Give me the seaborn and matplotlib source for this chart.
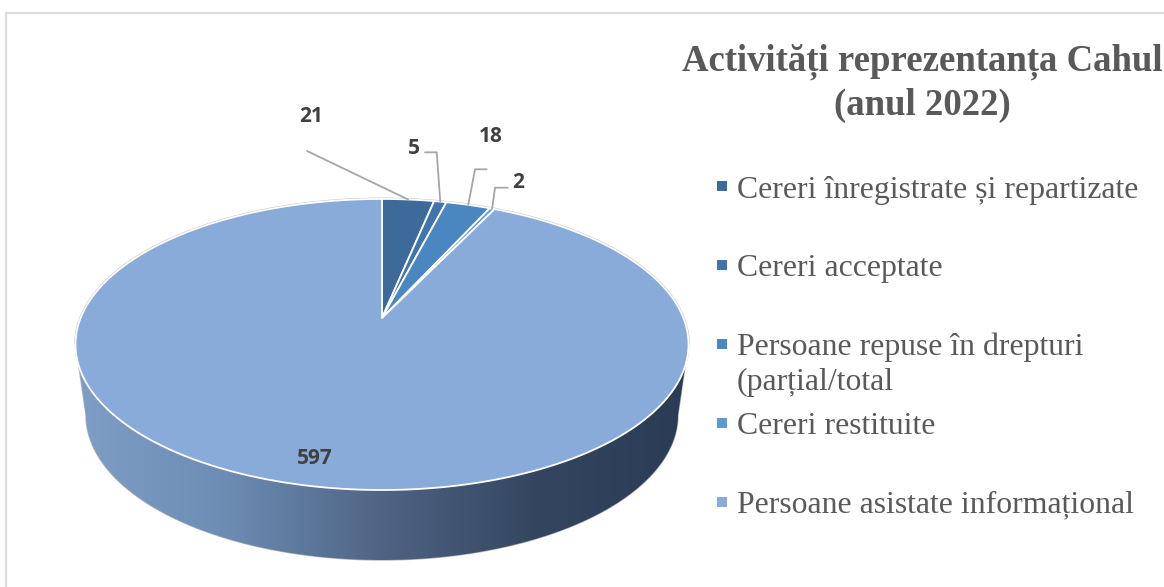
import numpy as np
import matplotlib
matplotlib.use("Agg")
import matplotlib.pyplot as plt
import seaborn as sns
from matplotlib.patches import Polygon

categories = [
    "Cereri înregistrate și repartizate",
    "Cereri acceptate",
    "Persoane repuse în drepturi\n(parțial/total",
    "Cereri restituite",
    "Persoane asistate informațional",
]
values = [21, 5, 18, 2, 597]
slice_colors = ["#3D6A99", "#3F74AC", "#4A86C0", "#5B9BD5", "#88ABD9"]
side_colors = ["#7F9EC6", "#6C8CB2", "#4E6484", "#34465F", "#2A3B55"]
title_lines = "Activități reprezentanța Cahul\n(anul 2022)"

W, H = 1164, 587
CX, CY = 382, 318
TILT = 0.182  # fake perspective of the excel 3d pie


def project(theta):
    # theta runs clockwise from 12 o'clock, result is in pixels
    u, v = np.sin(theta), np.cos(theta)
    w = 1 + TILT * v
    return CX + 301.4 * u / w, CY - 140.7 * v / w


def arc(start, end):
    n = max(3, int(abs(end - start) * 120))
    return np.column_stack(project(np.linspace(start, end, n)))


sns.set_theme(style="white")
fig = plt.figure(figsize=(W / 100, H / 100), dpi=100)
ax = fig.add_axes([0, 0, 1, 1])
ax.set_axis_off()

# frame around the chart, only left and top are visible
ax.plot([6, 6, W], [H, 12.5, 12.5], color="#DCDCDC", lw=1.6, solid_joinstyle="miter")

# side of the disc, gradient clipped to the rim shape
front = arc(np.radians(100), np.radians(260))
s = np.linspace(np.pi, 0, 200)
lower = np.column_stack([CX + 296 * np.cos(s), 415 + 145 * np.sin(s)])
rim = Polygon(np.vstack([front, lower]), closed=True, transform=ax.transData,
              facecolor="none", edgecolor="#B5B5B5", lw=1.0, zorder=1)
ax.add_patch(rim)
cmap = sns.blend_palette(side_colors, as_cmap=True)
grad = ax.imshow(np.linspace(0, 1, 256).reshape(1, -1), cmap=cmap, aspect="auto",
                 extent=(74, 691, 570, 330), zorder=1)
grad.set_clip_path(rim)

# top of the disc
angles = np.cumsum([0] + values) / sum(values) * 2 * np.pi
apex = np.array([[CX, CY]])
ax.plot(*arc(np.radians(-100), np.radians(100)).T, color="#C4C4C4", lw=2.0, zorder=2)
for i, color in enumerate(slice_colors):
    pts = np.vstack([apex, arc(angles[i], angles[i + 1])])
    ax.add_patch(Polygon(pts, closed=True, facecolor=color, edgecolor="white",
                         lw=1.3, joinstyle="round", zorder=3))

# data labels and their leader lines
mids = (angles[:-1] + angles[1:]) / 2
leaders = [
    [(307, 151)],
    [(425, 152.3), (436.7, 152.3)],
    [(486.7, 169.3), (475, 169.3)],
    [(507.7, 187.7), (495, 187.7)],
]
label_pos = [(311, 117), (414, 148), (491, 136), (518, 183), (315, 459)]
for i, pts in enumerate(leaders):
    tip = project(mids[i])
    xs, ys = zip(*(pts + [tip]))
    ax.plot(xs, ys, color="#A6A6A6", lw=1.3, zorder=4)
for val, (x, y) in zip(values, label_pos):
    ax.text(x, y, str(val), family="Open Sans", weight="bold", fontsize=15,
            color="#404040", ha="center", va="center", zorder=5)

# title and legend drawn by hand, the layout is not a standard legend
ax.text(922.5, 115, title_lines, family="Liberation Serif", weight="bold", fontsize=26.5,
        color="#595959", ha="center", va="baseline", multialignment="center",
        linespacing=1.3, zorder=5)
marker_y = [186, 265, 344, 423, 502]
baseline_y = [198, 276, 390, 434, 512]
for name, color, my, by in zip(categories, slice_colors, marker_y, baseline_y):
    ax.scatter([721.5], [my], marker="s", s=58, color=color, linewidths=0, zorder=5)
    ax.text(737, by, name, family="Liberation Serif", fontsize=22.9, color="#595959",
            ha="left", va="baseline", linespacing=1.28, zorder=5)

ax.set_xlim(0, W)
ax.set_ylim(H, 0)
sns.despine(ax=ax, left=True, bottom=True)
fig.savefig("out.png", dpi=100, facecolor="white")
plt.close(fig)
